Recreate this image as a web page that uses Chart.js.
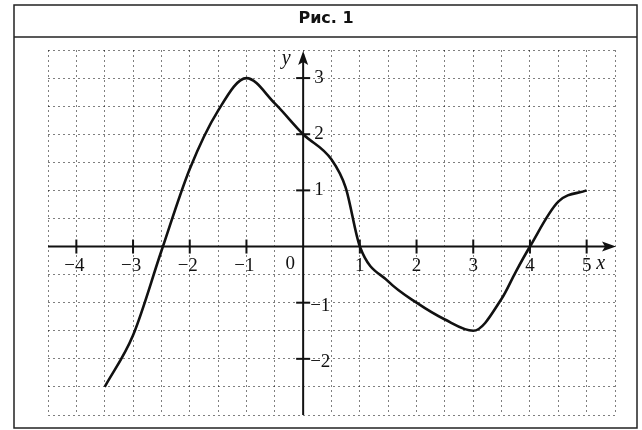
<!DOCTYPE html>
<html>
<head>
<meta charset="utf-8">
<script src="https://cdn.jsdelivr.net/npm/chart.js@4/dist/chart.umd.min.js"></script>
<style>
  body { margin: 0; background: #fff; }
  #graph { display: block; }
</style>
</head>
<body>
<canvas id="graph" width="642" height="430"></canvas>
<script>
// curve points
const xValues = [-3.5, -3, -2.5, -2, -1.5, -1, -0.5, 0, 0.5, 0.75, 1, 1.5, 2, 2.5, 3, 3.5, 3.75, 4, 4.5, 5];
const yValues = [-2.5, -1.58, -0.08, 1.38, 2.42, 3, 2.55, 2, 1.55, 1.05, 0, -0.62, -1, -1.3, -1.5, -0.93, -0.45, 0, 0.8, 1];

const xTicks = [-4, -3, -2, -1, 1, 2, 3, 4, 5];
const yTicks = [-2, -1, 1, 2, 3];
const title = 'Рис. 1';

const points = xValues.map((x, i) => ({ x: x, y: yValues[i] }));

const labelFont = '19px "Liberation Serif", "DejaVu Serif", serif';
const italicFont = 'italic 20px "Liberation Serif", "DejaVu Serif", serif';

// frame, title, axes with arrows, tick marks and labels
const axesPlugin = {
  id: 'axesPlugin',
  beforeDraw(chart) {
    const ctx = chart.ctx;
    ctx.save();
    ctx.strokeStyle = '#222';
    ctx.lineWidth = 1.5;
    ctx.strokeRect(14, 5, 623, 423);
    ctx.beginPath();
    ctx.moveTo(14, 37);
    ctx.lineTo(637, 37);
    ctx.stroke();
    ctx.fillStyle = '#111';
    ctx.font = 'bold 16px "DejaVu Sans", sans-serif';
    ctx.textAlign = 'center';
    ctx.textBaseline = 'middle';
    ctx.fillText(title, 326, 19);
    ctx.restore();
  },
  beforeDatasetsDraw(chart) {
    const ctx = chart.ctx;
    const xs = chart.scales.x;
    const ys = chart.scales.y;
    const area = chart.chartArea;
    const x0 = xs.getPixelForValue(0);
    const y0 = ys.getPixelForValue(0);

    ctx.save();
    ctx.strokeStyle = '#111';
    ctx.fillStyle = '#111';
    ctx.lineWidth = 2;

    // x axis
    ctx.beginPath();
    ctx.moveTo(area.left, y0);
    ctx.lineTo(area.right - 4, y0);
    ctx.stroke();
    ctx.beginPath();
    ctx.moveTo(area.right + 1, y0);
    ctx.lineTo(area.right - 13, y0 - 5);
    ctx.lineTo(area.right - 10, y0);
    ctx.lineTo(area.right - 13, y0 + 5);
    ctx.closePath();
    ctx.fill();

    // y axis
    ctx.beginPath();
    ctx.moveTo(x0, area.bottom);
    ctx.lineTo(x0, area.top + 4);
    ctx.stroke();
    ctx.beginPath();
    ctx.moveTo(x0, area.top + 1);
    ctx.lineTo(x0 - 5, area.top + 15);
    ctx.lineTo(x0, area.top + 12);
    ctx.lineTo(x0 + 5, area.top + 15);
    ctx.closePath();
    ctx.fill();

    // tick marks
    xTicks.forEach(v => {
      const px = xs.getPixelForValue(v);
      ctx.beginPath();
      ctx.moveTo(px, y0 - 7);
      ctx.lineTo(px, y0 + 7);
      ctx.stroke();
    });
    yTicks.forEach(v => {
      const py = ys.getPixelForValue(v);
      ctx.beginPath();
      ctx.moveTo(x0 - 7, py);
      ctx.lineTo(x0 + 7, py);
      ctx.stroke();
    });

    // labels
    ctx.font = labelFont;
    ctx.textBaseline = 'middle';
    ctx.textAlign = 'center';
    xTicks.forEach(v => {
      const txt = v < 0 ? '\u2212' + Math.abs(v) : String(v);
      const px = xs.getPixelForValue(v) + (v < 0 ? -2 : 0);
      ctx.fillText(txt, px, y0 + 19);
    });
    ctx.fillText('0', x0 - 13, y0 + 17);
    ctx.textAlign = 'left';
    yTicks.forEach(v => {
      const txt = v < 0 ? '\u2212' + Math.abs(v) : String(v);
      const py = ys.getPixelForValue(v) + (v < 0 ? 3 : 0);
      ctx.fillText(txt, x0 + (v < 0 ? 7 : 11), py);
    });
    ctx.font = italicFont;
    ctx.textAlign = 'center';
    ctx.fillText('x', xs.getPixelForValue(5) + 14, y0 + 17);
    ctx.fillText('y', x0 - 17, area.top + 9);
    ctx.restore();
  }
};

const gridStyle = {
  color: 'rgba(0,0,0,0.5)',
  lineWidth: 1,
  drawTicks: false
};

new Chart(document.getElementById('graph'), {
  type: 'line',
  data: {
    datasets: [{
      data: points,
      borderColor: '#111',
      borderWidth: 2.6,
      pointRadius: 0,
      fill: false,
      cubicInterpolationMode: 'monotone'
    }]
  },
  options: {
    responsive: false,
    animation: false,
    layout: {
      padding: { left: 48, right: 27, top: 50, bottom: 15 }
    },
    plugins: {
      legend: { display: false },
      tooltip: { enabled: false }
    },
    scales: {
      x: {
        type: 'linear',
        min: -4.5,
        max: 5.5,
        ticks: { display: false, stepSize: 0.5 },
        grid: gridStyle,
        border: { display: false, dash: [2, 3] }
      },
      y: {
        type: 'linear',
        min: -3,
        max: 3.5,
        ticks: { display: false, stepSize: 0.5 },
        grid: gridStyle,
        border: { display: false, dash: [2, 3] }
      }
    }
  },
  plugins: [axesPlugin]
});
</script>
</body>
</html>
